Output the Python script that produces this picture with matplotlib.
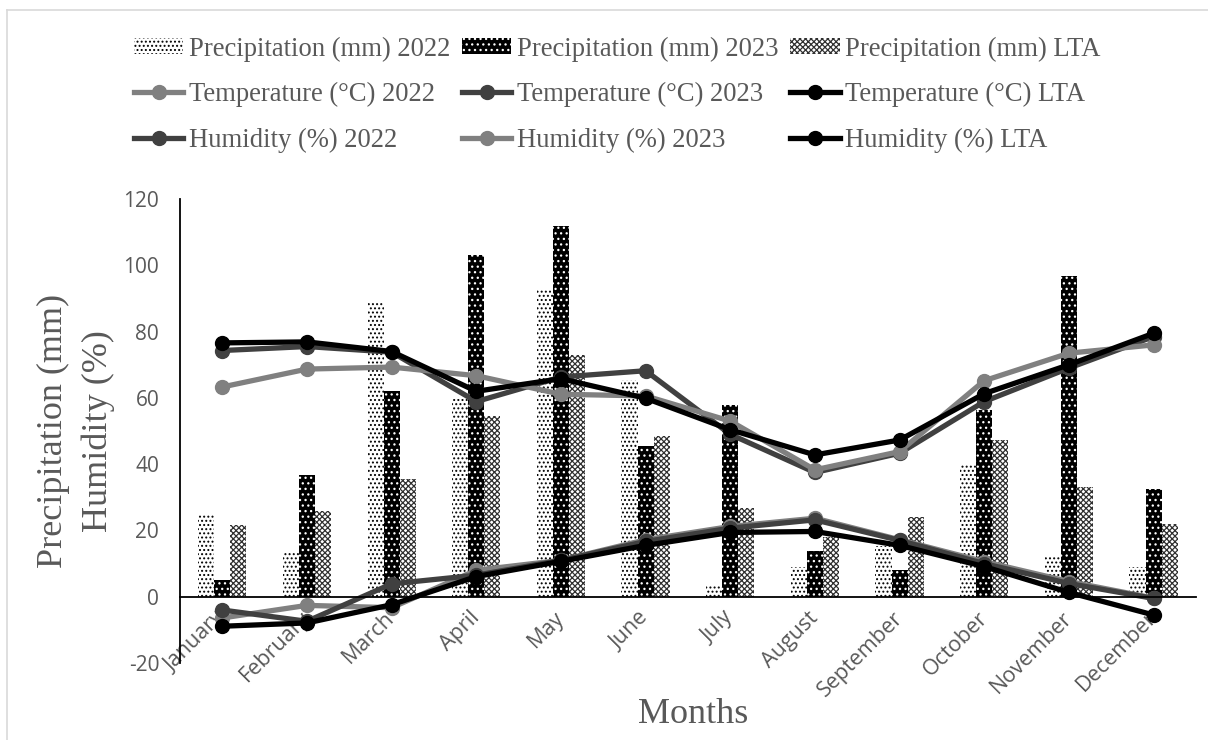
import matplotlib
matplotlib.use("Agg")
import matplotlib.pyplot as plt
import numpy as np
from matplotlib.lines import Line2D
from matplotlib.patches import Patch

months = ["January", "February", "March", "April", "May", "June", "July",
          "August", "September", "October", "November", "December"]

precip_2022 = [25, 13.4, 89, 59.7, 93, 65.4, 3.3, 8.9, 15.2, 40, 12.4, 9.1]
precip_2023 = [5, 36.8, 62, 103, 112, 45.6, 58, 13.9, 8.1, 56.4, 96.8, 32.6]
precip_lta = [21.7, 26, 35.5, 54.6, 72.8, 48.5, 26.7, 18, 24.2, 47.3, 33, 22]

temp_2022 = [-6.4, -2.6, -3.3, 8.0, 11.0, 17.2, 21.2, 23.7, 17.2, 10.6, 4.6, -0.4]
temp_2023 = [-4.0, -7.4, 3.9, 6.5, 11.0, 16.7, 20.7, 23.2, 17.0, 10.0, 4.0, -0.5]
temp_lta = [-8.9, -7.9, -2.4, 6.1, 10.7, 15.5, 19.4, 19.7, 15.5, 9.1, 1.3, -5.5]

hum_2022 = [74.3, 75.5, 73.8, 58.9, 66.3, 68.2, 49.0, 37.5, 43.3, 58.9, 69.0, 78.5]
hum_2023 = [63.3, 68.7, 69.3, 66.7, 61.1, 60.6, 53.0, 38.3, 43.8, 65.2, 73.5, 76.0]
hum_lta = [76.6, 76.9, 74.0, 62.0, 65.8, 59.9, 50.4, 42.8, 47.3, 61.3, 70.0, 79.5]

LIGHT = "#808080"
DARK = "#404040"
BLACK = "#000000"
TEXT = "#595959"

plt.rcParams["hatch.linewidth"] = 0.9
plt.rcParams["axes.unicode_minus"] = False

fig = plt.figure(figsize=(12.08, 7.4), dpi=100)
ax = fig.add_axes([0.149, 0.104, 0.841, 0.627])

x = np.arange(len(months))
w = 0.19

P22 = dict(facecolor="white", edgecolor="black", linewidth=0, hatch="....")
P23 = dict(facecolor="black", edgecolor="white", linewidth=0, hatch="...")
PLTA = dict(facecolor="white", edgecolor="#303030", linewidth=0, hatch="xxxxxx")

ax.bar(x - w, precip_2022, w, zorder=2, **P22)
ax.bar(x, precip_2023, w, zorder=2, **P23)
ax.bar(x + w, precip_lta, w, zorder=2, **PLTA)

line_kw = dict(linewidth=3.8, marker="o", markersize=10, zorder=3)
series = [
    (temp_2022, LIGHT), (temp_2023, DARK), (temp_lta, BLACK),
    (hum_2022, DARK), (hum_2023, LIGHT), (hum_lta, BLACK),
]
for vals, col in series:
    ax.plot(x, vals, color=col, markerfacecolor=col, markeredgecolor=col, **line_kw)

# horizontal axis crosses at zero
ax.spines["bottom"].set_position(("data", 0))
ax.spines["bottom"].set_zorder(4)
for s in ["top", "right"]:
    ax.spines[s].set_visible(False)
for s in ["left", "bottom"]:
    ax.spines[s].set_color("black")
    ax.spines[s].set_linewidth(1.3)

ax.set_xlim(-0.5, 11.5)
ax.set_ylim(-20, 120)
ax.set_yticks(np.arange(-20, 121, 20))
ax.set_yticklabels([str(v) for v in range(-20, 121, 20)],
                   fontfamily="Open Sans", fontsize=15, color=TEXT)
ax.set_xticks(x)
ax.set_xticklabels(months, rotation=45, ha="right", va="center", rotation_mode="anchor",
                   fontfamily="Open Sans", fontsize=15.5, color=TEXT)
ax.tick_params(axis="both", length=0)
ax.tick_params(axis="y", pad=15)
ax.tick_params(axis="x", pad=13)

ax.set_ylabel("Precipitation (mm)\nHumidity (%)", fontfamily="Liberation Serif",
              fontsize=26, color=TEXT, linespacing=1.45, labelpad=6)
fig.text(0.574, 0.012, "Months", fontfamily="Liberation Serif", fontsize=26,
         color=TEXT, ha="center", va="bottom")

def line_handle(col):
    return Line2D([0], [0], color=col, linewidth=3.8, marker="o", markersize=10,
                  markerfacecolor=col, markeredgecolor=col)

handles = [Patch(**P22), line_handle(LIGHT), line_handle(DARK),
           Patch(**P23), line_handle(DARK), line_handle(LIGHT),
           Patch(**PLTA), line_handle(BLACK), line_handle(BLACK)]
labels = ["Precipitation (mm) 2022", "Temperature (°C) 2022", "Humidity (%) 2022",
          "Precipitation (mm) 2023", "Temperature (°C) 2023", "Humidity (%) 2023",
          "Precipitation (mm) LTA", "Temperature (°C) LTA", "Humidity (%) LTA"]

fig.legend(handles, labels, ncol=3, loc="upper center", bbox_to_anchor=(0.511, 0.983),
           frameon=False, prop={"family": "Liberation Serif", "size": 19.2},
           labelcolor=TEXT, handlelength=1.85, handleheight=0.55, handletextpad=0.2,
           columnspacing=0.45, labelspacing=0.76)

# thin outer frame of the chart area
fig.add_artist(Line2D([7 / 1208, 7 / 1208], [0, 1 - 10 / 740], transform=fig.transFigure,
                      color="#d9d9d9", linewidth=1.2))
fig.add_artist(Line2D([7 / 1208, 1], [1 - 10 / 740, 1 - 10 / 740], transform=fig.transFigure,
                      color="#d9d9d9", linewidth=1.2))

fig.savefig("out.png", dpi=100)
